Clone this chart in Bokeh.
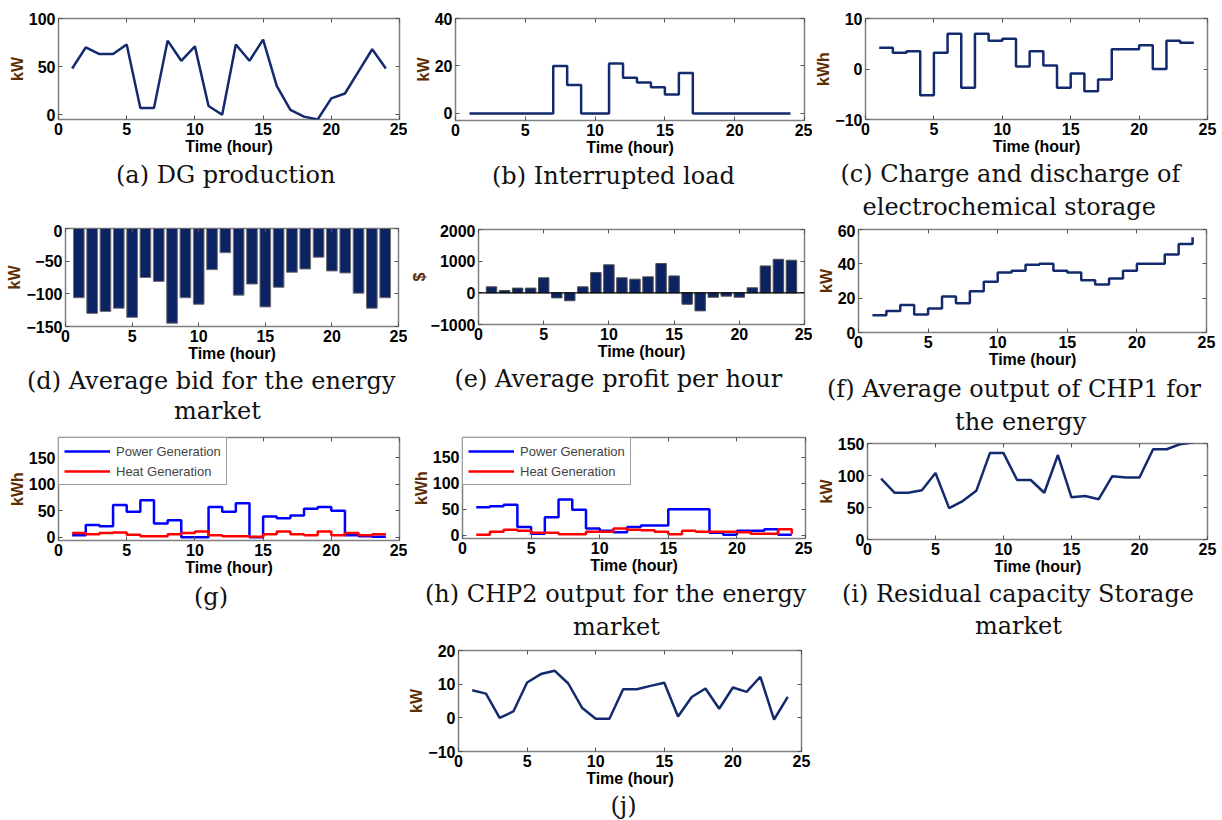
from bokeh.plotting import figure
from bokeh.layouts import column, row, Spacer
from bokeh.models import (Range1d, LinearAxis, FixedTicker, Title, Span, Legend,
                          LegendItem, CustomJSTickFormatter)
from bokeh.embed import file_html
from bokeh.resources import INLINE

# ---- data (hour 1..24) ----
hours = list(range(1, 25))

dg_production = [48, 70, 63, 63, 73, 7, 7, 77, 56, 71, 9, 0,
                 73, 56, 78, 30, 5, -2, -5, 17, 22, 45, 68, 48]

interrupted_load = [0, 0, 0, 0, 0, 0, 20, 12, 0, 0, 21, 15,
                    13, 11, 8, 17, 0, 0, 0, 0, 0, 0, 0, 0]

storage_charge = [4.2, 3.2, 3.5, -5.2, 3.2, 7.0, -3.7, 7.0, 5.6, 6.0, 0.5, 3.5,
                  0.7, -3.7, -0.9, -4.4, -2.1, 3.9, 3.9, 4.7, 0.0, 5.6, 5.2, 5.2]

avg_bid = [-106, -130, -127, -122, -136, -75, -81, -145, -106, -116, -63, -37,
           -102, -85, -120, -90, -67, -62, -44, -65, -68, -99, -122, -106]

avg_profit = [190, 75, 150, 150, 475, -160, -250, 190, 640, 885, 475, 430,
              505, 925, 535, -360, -570, -140, -105, -140, 160, 850, 1060, 1030]

chp1_output = [10, 12.5, 16, 10.5, 14, 21, 17, 24, 29.5, 35, 36, 39.5,
               40, 36, 35, 30.5, 28, 31.5, 36, 40, 40, 45.5, 51.5, 55.5]

g_power = [4, 23, 21, 61, 48, 70, 26, 32, 0, 0, 57, 48,
           64, 0, 39, 36, 41, 54, 57, 50, 4, 2, 1, 1]
g_heat = [8, 6, 8, 9, 5, 2, 2, 6, 8, 11, 4, 2,
          2, 1, 6, 11, 6, 4, 11, 4, 8, 4, 6, 6]

h_power = [54, 56, 59, 16, 3, 35, 69, 49, 13, 9, 6, 16,
           19, 19, 50, 50, 50, 5, 1, 9, 9, 12, 1, 1]
h_heat = [1, 7, 11, 9, 5, 5, 2, 2, 7, 7, 13, 11,
          10, 7, 2, 9, 7, 7, 7, 6, 3, 3, 12, 3]

residual_capacity = [95, 73, 73, 77, 104, 49, 60, 76, 135, 135, 93, 93,
                     73, 132, 66, 68, 63, 99, 97, 97, 141, 141, 149, 152]

panel_j = [8.2, 7.2, 0, 1.9, 10.5, 13, 14, 10.2, 3, -0.3, -0.3, 8.5,
           8.5, 9.5, 10.4, 0.4, 6.2, 8.7, 2.7, 9, 7.7, 12.2, -0.5, 6.2]

x_ticks = [0, 5, 10, 15, 20, 25]

NAVY = "#132a6e"
BAR = "#0b2363"
LABEL_BROWN = "#5c2e05"
TICK_FONT = "Liberation Sans"
CAPTION_FONT = "DejaVu Serif"


def blank_axis(ticks):
    # tick marks only, for the top and right edges of the box
    ax = LinearAxis(ticker=FixedTicker(ticks=ticks),
                    formatter=CustomJSTickFormatter(code="return ''"))
    ax.major_tick_in = 4
    ax.major_tick_out = 0
    ax.minor_tick_line_color = None
    ax.axis_line_color = None
    ax.major_label_standoff = 0
    ax.axis_label_standoff = 0
    ax.major_label_text_font_size = "0px"
    ax.major_tick_line_color = "#555555"
    return ax


def panel(cell_x, width, height, left, right, top, frame_h, yr, yticks, ylabel,
          captions):
    """Boxed sub-plot.  captions: (text, approx. text width, page x of the
    text centre, standoff) for each caption line under the axis."""
    p = figure(width=width, height=height, title=None,
               x_range=Range1d(0, 25), y_range=Range1d(*yr),
               output_backend="svg", toolbar_location=None,
               min_border_left=left, min_border_right=right,
               min_border_top=top, min_border_bottom=height - top - frame_h)
    p.background_fill_color = "white"
    p.border_fill_color = "white"
    p.outline_line_color = "#808080"
    p.outline_line_width = 1.5
    p.grid.visible = False

    xa = p.xaxis[0]
    xa.ticker = FixedTicker(ticks=x_ticks)
    xa.axis_label = "Time (hour)"
    ya = p.yaxis[0]
    ya.ticker = FixedTicker(ticks=yticks)
    ya.axis_label = ylabel
    for ax in (xa, ya):
        ax.major_tick_in = 4
        ax.major_tick_out = 0
        ax.minor_tick_line_color = None
        ax.axis_line_color = None
        ax.major_tick_line_color = "#555555"
        ax.major_label_text_font = TICK_FONT
        ax.major_label_text_font_style = "bold"
        ax.major_label_text_font_size = "16px"
        ax.major_label_text_color = "black"
        ax.major_label_standoff = 3
        ax.axis_label_text_font = TICK_FONT
        ax.axis_label_text_font_style = "bold"
        ax.axis_label_text_font_size = "16px"
        ax.axis_label_standoff = 0
    xa.axis_label_text_color = "black"
    ya.axis_label_text_color = LABEL_BROWN

    p.add_layout(blank_axis(x_ticks), "above")
    p.add_layout(blank_axis(yticks), "right")

    frame_left = cell_x + left
    for text, text_w, centre_x, standoff in captions:
        p.add_layout(Title(text=text, align="left",
                           offset=centre_x - text_w / 2 - frame_left,
                           standoff=standoff, text_font=CAPTION_FONT,
                           text_font_size="24px", text_font_style="normal",
                           text_color="#111111"), "below")
    return p


# ---- first row ----
pa = panel(0, 407, 224, 58, 8, 18, 101, (-5, 100), [0, 50, 100], "kW",
           [("(a) DG production", 217, 224, 2)])
pa.line(hours, dg_production, line_color=NAVY, line_width=2.5)

pb = panel(407, 405, 224, 48, 8, 18, 102, (-3, 40), [0, 20, 40], "kW",
           [("(b) Interrupted load", 243, 613, 2)])
pb.step(hours, interrupted_load, mode="after", line_color=NAVY, line_width=2.5)

pc = panel(812, 410, 224, 51, 15, 18, 101, (-10, 10), [-10, 0, 10], "kWh",
           [("(c) Charge and discharge of", 334, 1005, 0),
            ("electrochemical storage", 290, 1005, 6)])
pc.step(hours, storage_charge, mode="after", line_color=NAVY, line_width=2.5)

# ---- second row ----
pd_ = panel(0, 407, 211, 65, 9, 4, 98, (-150, 0), [-150, -100, -50, 0], "kW",
            [("(d) Average bid for the energy", 367, 210, 0),
             ("market", 87, 217, 0)])
pd_.vbar(x=hours, top=avg_bid, bottom=0, width=0.8, fill_color=BAR,
         line_color="#707070", line_width=1)

pe = panel(407, 405, 211, 66, 8, 5, 95, (-1000, 2000), [-1000, 0, 1000, 2000], "$",
           [("(e) Average profit per hour", 330, 614, 0)])
pe.vbar(x=hours, top=avg_profit, bottom=0, width=0.8, fill_color=BAR,
        line_color="#505050", line_width=1)
pe.add_layout(Span(location=0, dimension="width", line_color="black", line_width=1.2))

pf = panel(812, 410, 211, 46, 16, 5, 103, (0, 60), [0, 20, 40, 60], "kW",
           [("(f) Average output of CHP1 for", 375, 1014, 5),
            ("the energy", 131, 1020, 0)])
pf.step(hours, chp1_output, mode="after", line_color=NAVY, line_width=2.5)


# ---- third row: CHP outputs with legends ----
def chp_panel(cell_x, width, left, right, top, frame_h, power, heat, captions):
    p = panel(cell_x, width, 208, left, right, top, frame_h, (-6, 188),
              [0, 50, 100, 150], "kWh", captions)
    r_power = p.step(hours, power, mode="after", line_color="#0000ff", line_width=2.5)
    r_heat = p.step(hours, heat, mode="after", line_color="#ff0000", line_width=2.5)
    legend = Legend(items=[LegendItem(label="Power Generation", renderers=[r_power]),
                           LegendItem(label="Heat Generation", renderers=[r_heat])],
                    location="top_left")
    legend.margin = 0
    legend.padding = 5
    legend.spacing = 4
    legend.glyph_width = 46
    legend.glyph_height = 16
    legend.label_height = 16
    legend.label_standoff = 6
    legend.label_text_font = TICK_FONT
    legend.label_text_font_size = "13px"
    legend.border_line_color = "#404040"
    legend.border_line_width = 1
    legend.background_fill_alpha = 1
    p.add_layout(legend, "center")
    return p


pg = chp_panel(0, 407, 58, 8, 2, 103, g_power, g_heat,
               [("(g)", 33, 210, 4)])
ph = chp_panel(407, 405, 55, 7, 2, 101, h_power, h_heat,
               [("(h) CHP2 output for the energy", 381, 615, 2),
                ("market", 87, 616, 4)])

pi = panel(812, 410, 208, 55, 15, 8, 96, (0, 150), [0, 50, 100, 150], "kW",
           [("(i) Residual capacity Storage", 351, 1017, 0),
            ("market", 87, 1018, 4)])
pi.line(hours, residual_capacity, line_color=NAVY, line_width=2.5)

# ---- last row ----
pj = panel(400, 412, 177, 58, 11, 7, 101, (-10, 20), [-10, 0, 10, 20], "kW",
           [("(j)", 28, 624, 0)])
pj.line(hours, panel_j, line_color=NAVY, line_width=2.5)

# each plot sits in its own column so that its frame keeps its own height
layout = column(
    row(column(pa), column(pb), column(pc), spacing=0),
    row(column(pd_), column(pe), column(pf), spacing=0),
    row(column(pg), column(ph), column(pi), spacing=0),
    row(Spacer(width=400, height=177), column(pj), spacing=0),
    spacing=0,
)

open("out.html", "w").write(file_html(layout, INLINE))
